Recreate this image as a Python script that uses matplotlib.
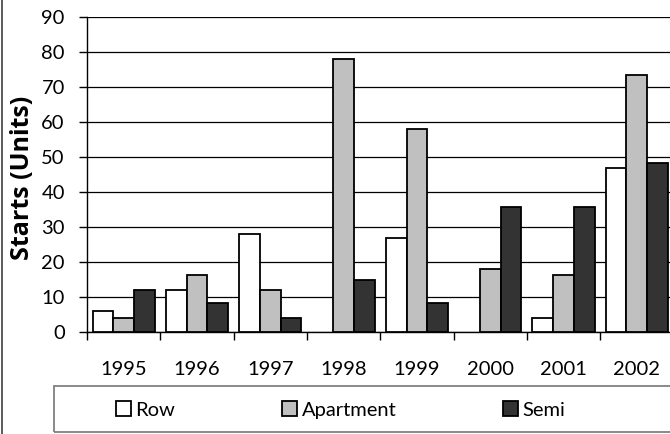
import matplotlib
matplotlib.use("Agg")
import matplotlib.pyplot as plt
import numpy as np
from matplotlib.patches import Rectangle
from matplotlib.lines import Line2D

years = ["1995", "1996", "1997", "1998", "1999", "2000", "2001", "2002"]
row = [6, 12, 28, 0, 27, 0, 4, 47]
apartment = [4, 16.3, 12, 78, 58, 18, 16.3, 73.5]
semi = [12, 8.3, 4, 15, 8.3, 35.7, 35.7, 48.3]
series_names = ["Row", "Apartment", "Semi"]
colors = ["#FFFFFF", "#C0C0C0", "#333333"]
yticks = [0, 10, 20, 30, 40, 50, 60, 70, 80, 90]

plt.rcParams['font.family'] = ['Lato', 'DejaVu Sans']
FS = 14.5

W, H = 670, 434
fig = plt.figure(figsize=(W / 100, H / 100), dpi=100)
ax = fig.add_axes([87 / W, 1 - 332 / H, (673.5 - 87) / W, 315 / H])

x = np.arange(len(years))
bw = 0.283
for i, (vals, c, name) in enumerate(zip([row, apartment, semi], colors, series_names)):
    v = np.array(vals, dtype=float)
    v[v == 0] = np.nan  # zero values draw no bar
    ax.bar(x + (i - 1) * bw, v, width=bw, color=c, edgecolor="black",
           linewidth=1.3, label=name, zorder=3)

ax.set_xlim(-0.5, len(years) - 0.5)
ax.set_ylim(0, 90)
ax.set_yticks(yticks)
ax.yaxis.grid(True, color="black", linewidth=0.9, zorder=0)
ax.set_axisbelow(True)

ax.set_xticks(np.arange(-0.5, len(years) + 0.5, 1.0))
ax.set_xticklabels([])
ax.set_xticks(x, minor=True)
ax.set_xticklabels(years, minor=True)
ax.tick_params(axis="x", which="major", length=6, width=1, direction="out", color="black")
ax.tick_params(axis="x", which="minor", length=0, pad=21, labelsize=FS)
ax.tick_params(axis="y", length=6, width=1, direction="out", pad=10, labelsize=FS)

for s in ["top", "right"]:
    ax.spines[s].set_visible(False)
for s in ["left", "bottom"]:
    ax.spines[s].set_linewidth(1.0)
    ax.spines[s].set_color("black")

fig.text(22.5 / W, 1 - 178 / H, "Starts (Units)", rotation=90, fontsize=18,
         fontweight="bold", ha="center", va="center",
         family=["Open Sans", "DejaVu Sans"])

# legend box
fig.add_artist(Rectangle((54 / W, 1 - 432 / H), (700 - 54) / W, 46 / H,
                         transform=fig.transFigure, facecolor="none",
                         edgecolor="#808080", linewidth=1.3))
handles, labels = ax.get_legend_handles_labels()
fig.legend(handles, labels, loc="center left", bbox_to_anchor=(116 / W, 1 - 410 / H),
           ncol=3, frameon=False, fontsize=FS, handlelength=0.72, handleheight=0.72,
           handletextpad=0.25, columnspacing=5.3, borderpad=0, borderaxespad=0)

# chart border at left
fig.add_artist(Line2D([2 / W, 2 / W], [0, 1], transform=fig.transFigure,
                      color="#404040", linewidth=1.2))

fig.savefig("out.png", dpi=100)
